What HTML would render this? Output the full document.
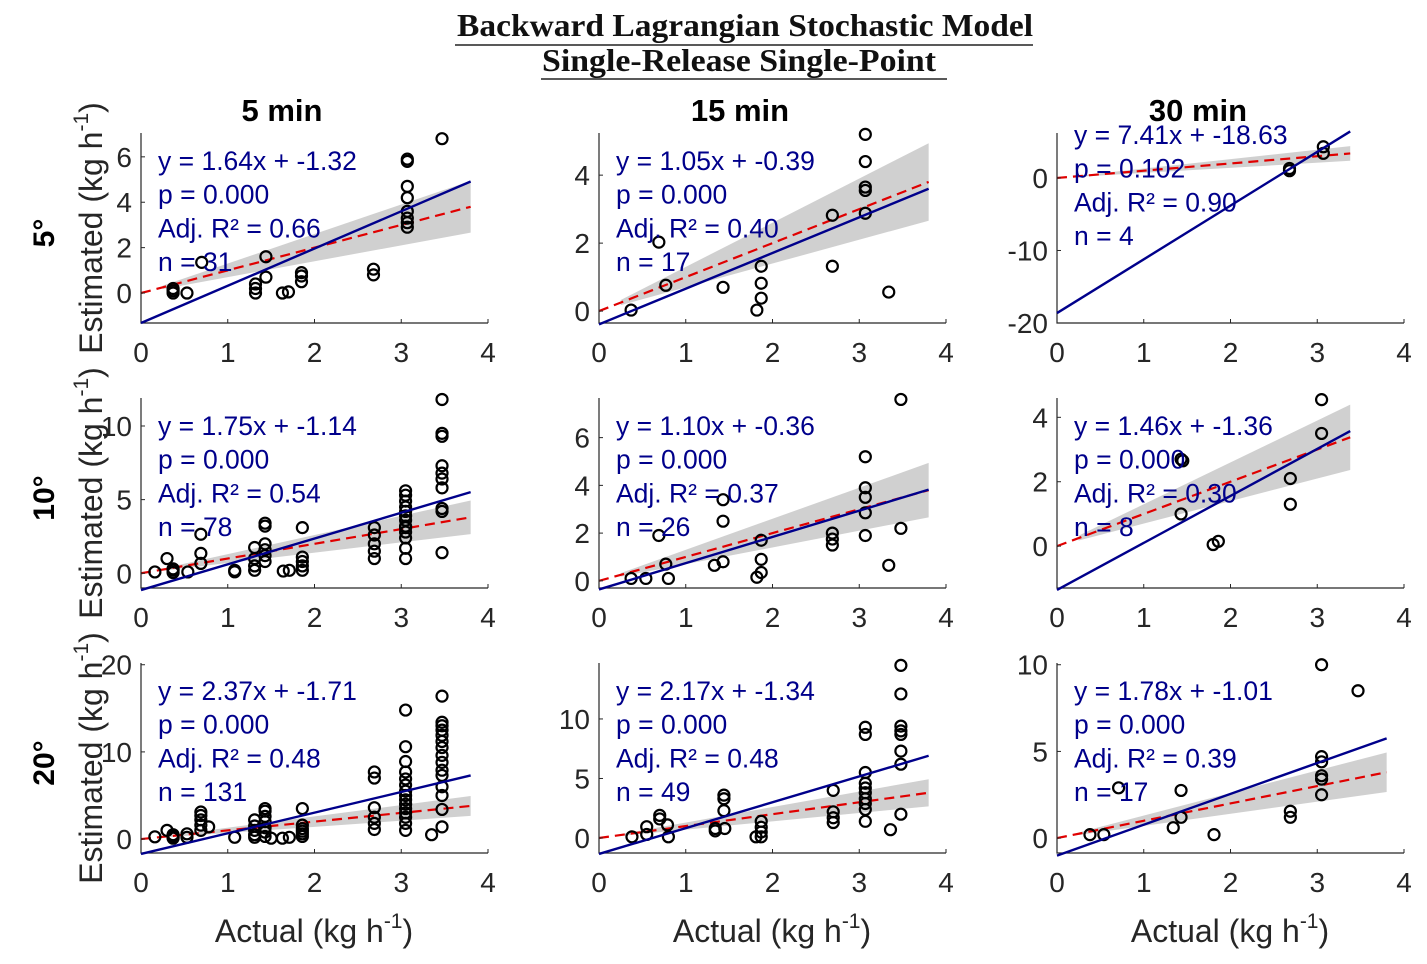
<!DOCTYPE html>
<html><head><meta charset="utf-8"><style>
body{margin:0;background:#fff;}
svg{display:block;font-family:"Liberation Sans",sans-serif;}
</style></head><body>
<svg id="fig" width="1427" height="964" viewBox="0 0 1427 964" xmlns="http://www.w3.org/2000/svg">
<text x="745" y="36" text-anchor="middle" font-family="Liberation Serif,serif" font-weight="bold" font-size="32" textLength="576" lengthAdjust="spacingAndGlyphs" fill="#111">Backward Lagrangian Stochastic Model</text>
<line x1="455" y1="45" x2="1033" y2="45" stroke="#222" stroke-width="1.5"/>
<text x="739" y="71" text-anchor="middle" font-family="Liberation Serif,serif" font-weight="bold" font-size="32" textLength="394" lengthAdjust="spacingAndGlyphs" fill="#111">Single-Release Single-Point</text>
<line x1="541" y1="79" x2="947" y2="79" stroke="#222" stroke-width="1.5"/>
<g id="plots"></g>
</svg>
<script>
const colTitles=["5 min","15 min","30 min"];
const rowTitles=["5°","10°","20°"];
const slopes=[1.64,1.05,7.41,1.75,1.10,1.46,2.37,2.17,1.78];
const intercepts=[-1.32,-0.39,-18.63,-1.14,-0.36,-1.36,-1.71,-1.34,-1.01];
const pvals=["0.000","0.000","0.102","0.000","0.000","0.000","0.000","0.000","0.000"];
const r2s=["0.66","0.40","0.90","0.54","0.37","0.30","0.48","0.48","0.39"];
const ns=["31","17","4","78","26","8","131","49","17"];
const xEnds=[3.8,3.8,3.38,3.8,3.8,3.38,3.8,3.8,3.8];
const yMins=[-1.32,-0.35,-20,-1.0,-0.3,-1.3,-1.6,-1.26,-0.86];
const yMaxs=[7.05,5.24,6.2,11.9,7.66,4.6,20.2,14.7,10.1];
const yTicks=[[0,2,4,6],[0,2,4],[-20,-10,0],[0,5,10],[0,2,4,6],[0,2,4],[0,10,20],[0,5,10],[0,5,10]];
const xTicks=[0,1,2,3,4];
const pts=[
[[0.37,0],[0.37,0.1],[0.37,0.2],[0.53,0],[0.7,1.35],[1.32,0],[1.32,0.2],[1.32,0.4],[1.44,1.6],[1.44,0.7],[1.63,0],[1.7,0.05],[1.85,0.5],[1.85,0.75],[1.85,0.9],[2.68,0.8],[2.68,1.05],[3.07,5.9],[3.07,5.8],[3.07,4.7],[3.07,4.2],[3.07,3.6],[3.07,3.3],[3.07,2.9],[3.07,3.1],[3.47,6.8]],
[[0.37,0.03],[0.69,2.03],[0.77,0.76],[1.43,0.7],[1.82,0.03],[1.87,1.32],[1.87,0.82],[1.87,0.38],[2.69,2.82],[2.69,1.32],[3.07,5.2],[3.07,4.4],[3.07,3.65],[3.07,3.55],[3.07,2.88],[3.34,0.56]],
[[2.68,1.3],[2.68,1.0],[3.07,4.3],[3.07,3.4]],
[[0.16,0.09],[0.3,1.0],[0.37,0.2],[0.37,0.3],[0.37,0.05],[0.54,0.09],[0.69,2.65],[0.69,1.35],[0.69,0.67],[1.08,0.2],[1.08,0.1],[1.31,1.75],[1.31,1.0],[1.31,0.5],[1.31,0.2],[1.43,3.4],[1.43,3.2],[1.43,2.0],[1.43,1.6],[1.43,1.2],[1.43,0.8],[1.64,0.15],[1.71,0.2],[1.86,3.1],[1.86,1.1],[1.86,0.8],[1.86,0.5],[1.86,0.2],[2.69,3.1],[2.69,2.6],[2.69,2.0],[2.69,1.5],[2.69,1.0],[3.05,5.6],[3.05,5.3],[3.05,4.9],[3.05,4.5],[3.05,4.2],[3.05,3.9],[3.05,3.6],[3.05,3.2],[3.05,2.8],[3.05,2.4],[3.05,1.7],[3.05,1.0],[3.05,3.1],[3.47,11.8],[3.47,9.5],[3.47,9.3],[3.47,7.3],[3.47,6.8],[3.47,6.4],[3.47,5.8],[3.47,4.4],[3.47,4.2],[3.47,1.4]],
[[0.37,0.1],[0.54,0.1],[0.69,1.9],[0.77,0.7],[0.8,0.1],[1.33,0.65],[1.43,0.8],[1.43,3.4],[1.43,2.5],[1.82,0.15],[1.87,1.7],[1.87,0.9],[1.87,0.35],[2.69,2.0],[2.69,1.5],[2.69,1.75],[3.07,5.2],[3.07,3.9],[3.07,3.5],[3.07,2.85],[3.07,1.9],[3.34,0.65],[3.48,7.6],[3.48,2.2]],
[[1.43,2.7],[1.45,2.65],[1.43,1.0],[1.8,0.05],[1.86,0.15],[2.69,2.1],[2.69,1.3],[3.05,4.55],[3.05,3.5]],
[[0.16,0.26],[0.3,1.0],[0.37,0.3],[0.37,0.5],[0.37,0.1],[0.53,0.6],[0.53,0.2],[0.69,3.1],[0.69,2.7],[0.69,2.2],[0.69,1.6],[0.69,1.0],[0.78,1.4],[1.08,0.2],[1.31,2.2],[1.31,1.5],[1.31,1.0],[1.31,0.5],[1.31,0.2],[1.43,3.5],[1.43,3.2],[1.43,2.6],[1.43,2.0],[1.43,1.3],[1.43,0.8],[1.43,0.3],[1.5,0.1],[1.63,0.1],[1.71,0.2],[1.86,3.5],[1.86,1.6],[1.86,1.2],[1.86,0.9],[1.86,0.6],[1.86,0.3],[2.69,7.7],[2.69,7.0],[2.69,3.6],[2.69,2.5],[2.69,1.8],[2.69,1.1],[3.05,14.8],[3.05,10.6],[3.05,8.9],[3.05,7.7],[3.05,6.9],[3.05,6.2],[3.05,5.5],[3.05,5.0],[3.05,4.5],[3.05,4.0],[3.05,3.5],[3.05,3.0],[3.05,2.5],[3.05,1.8],[3.05,1.0],[3.35,0.5],[3.47,16.4],[3.47,13.4],[3.47,13.0],[3.47,12.5],[3.47,11.9],[3.47,11.2],[3.47,10.5],[3.47,9.6],[3.47,8.8],[3.47,7.9],[3.47,7.3],[3.47,6.0],[3.47,5.0],[3.47,3.4],[3.47,1.4]],
[[0.38,0.1],[0.55,0.95],[0.55,0.3],[0.7,1.9],[0.7,1.6],[0.79,1.1],[0.8,0.1],[1.34,0.8],[1.34,0.6],[1.44,3.6],[1.44,3.3],[1.44,2.3],[1.45,0.8],[1.81,0.1],[1.87,1.4],[1.87,0.9],[1.87,0.5],[1.87,0.1],[2.7,4.0],[2.7,2.2],[2.7,1.7],[2.7,1.3],[3.07,9.3],[3.07,8.7],[3.07,5.5],[3.07,4.6],[3.07,4.2],[3.07,3.8],[3.07,3.3],[3.07,2.9],[3.07,2.4],[3.07,1.4],[3.36,0.7],[3.48,14.5],[3.48,12.1],[3.48,9.4],[3.48,9.0],[3.48,8.7],[3.48,7.3],[3.48,6.2],[3.48,2.0]],
[[0.38,0.2],[0.54,0.2],[0.71,2.9],[1.34,0.6],[1.43,2.75],[1.43,1.2],[1.81,0.2],[2.69,1.55],[2.69,1.2],[3.05,10.0],[3.05,4.7],[3.05,4.4],[3.05,3.6],[3.05,3.4],[3.05,2.5],[3.47,8.5]]
];
const NS="http://www.w3.org/2000/svg";
const root=document.getElementById('plots');
function mk(tag,attrs,parent,txt){const e=document.createElementNS(NS,tag);for(const k in attrs)e.setAttribute(k,attrs[k]);if(txt!==undefined)e.textContent=txt;(parent||root).appendChild(e);return e;}
const colX0=[141,599,1057], W=347, rowTop=[133,398,663], H=190;
for(let c=0;c<3;c++){
  const t=mk('text',{x:colX0[c]+141,y:121,'text-anchor':'middle','font-weight':'bold','font-size':31,fill:'#000'},root,colTitles[c]);
  
  
  const xl=mk('text',{x:colX0[c]+173,y:942,'text-anchor':'middle','font-size':32,fill:'#262626'},root);
  
  
  xl.innerHTML='Actual (kg h<tspan dy="-14" font-size="21">-1</tspan><tspan dy="14">)</tspan>';
}
for(let r=0;r<3;r++){
  const cy=rowTop[r]+H/2;
  const rt=mk('text',{x:0,y:0,transform:`translate(54,${cy+5}) rotate(-90)`,'text-anchor':'middle','font-weight':'bold','font-size':30,fill:'#000'},root,rowTitles[r]);
  
  
  const yl=mk('text',{x:0,y:0,transform:`translate(102,${cy}) rotate(-90)`,'text-anchor':'middle','font-size':32,fill:'#262626'},root);
  
  
  yl.innerHTML='Estimated (kg h<tspan dy="-14" font-size="21">-1</tspan><tspan dy="14">)</tspan>';
}
for(let i=0;i<9;i++){
  const r=Math.floor(i/3),c=i%3;
  const x0=colX0[c],y0=rowTop[r];
  const sx=v=>x0+v/4*W;
  const sy=v=>y0+H-(v-yMins[i])/(yMaxs[i]-yMins[i])*H;
  const g=mk('g',{});
  
  
  const cp='clip'+i;
  const cl=mk('clipPath',{id:cp},g);mk('rect',{x:x0,y:y0-4,width:W,height:H+4},cl);
  const xs=0.25,xe=xEnds[i];
  const band=mk('polygon',{points:`${sx(xs)},${sy(xs*1.3)} ${sx(xe)},${sy(xe*1.3)} ${sx(xe)},${sy(xe*0.7)} ${sx(xs)},${sy(xs*0.7)}`,fill:'#c8c8c8',opacity:0.85,'clip-path':`url(#${cp})`},g);
  
  
  const one=mk('line',{x1:sx(0),y1:sy(0),x2:sx(xe),y2:sy(xe),stroke:'#e00000','stroke-width':2.2,'stroke-dasharray':'10 6','clip-path':`url(#${cp})`},g);
  
  
  const ax=mk('path',{d:`M${x0},${y0} V${y0+H} H${x0+W}`,stroke:'#262626','stroke-width':1.2,fill:'none'},g);
  
  
  xTicks.forEach(v=>{
    mk('line',{x1:sx(v),x2:sx(v),y1:y0+H,y2:y0+H-4,stroke:'#262626','stroke-width':1},g);
    const t=mk('text',{x:sx(v),y:y0+H+39,'text-anchor':'middle','font-size':28,fill:'#262626'},g,String(v));
    
    
  });
  yTicks[i].forEach(v=>{
    mk('line',{x1:x0,x2:x0+4,y1:sy(v),y2:sy(v),stroke:'#262626','stroke-width':1},g);
    const t=mk('text',{x:x0-9,y:sy(v)+10,'text-anchor':'end','font-size':28,fill:'#262626'},g,String(v));
    
    
  });
  pts[i].forEach(p=>{
    const m=mk('circle',{cx:sx(p[0]),cy:sy(p[1]),r:5.5,fill:'none',stroke:'#000','stroke-width':2.2},g);
    
    
  });
  const fl=mk('line',{x1:sx(0),y1:sy(intercepts[i]),x2:sx(xe),y2:sy(slopes[i]*xe+intercepts[i]),stroke:'#00008b','stroke-width':2.4},g);
  
  
  const ty=(i==2?144:y0+37);
  const lines=[`y = ${slopes[i].toFixed(2)}x + ${intercepts[i].toFixed(2)}`,`p = ${pvals[i]}`,`Adj. R² = ${r2s[i]}`,`n = ${ns[i]}`];
  lines.forEach((s,k)=>{
    const t=mk('text',{x:x0+17,y:ty+k*33.7,'font-size':26.5,fill:'#00008b'},g,s);
    
    
  });
}
</script>
</body></html>
